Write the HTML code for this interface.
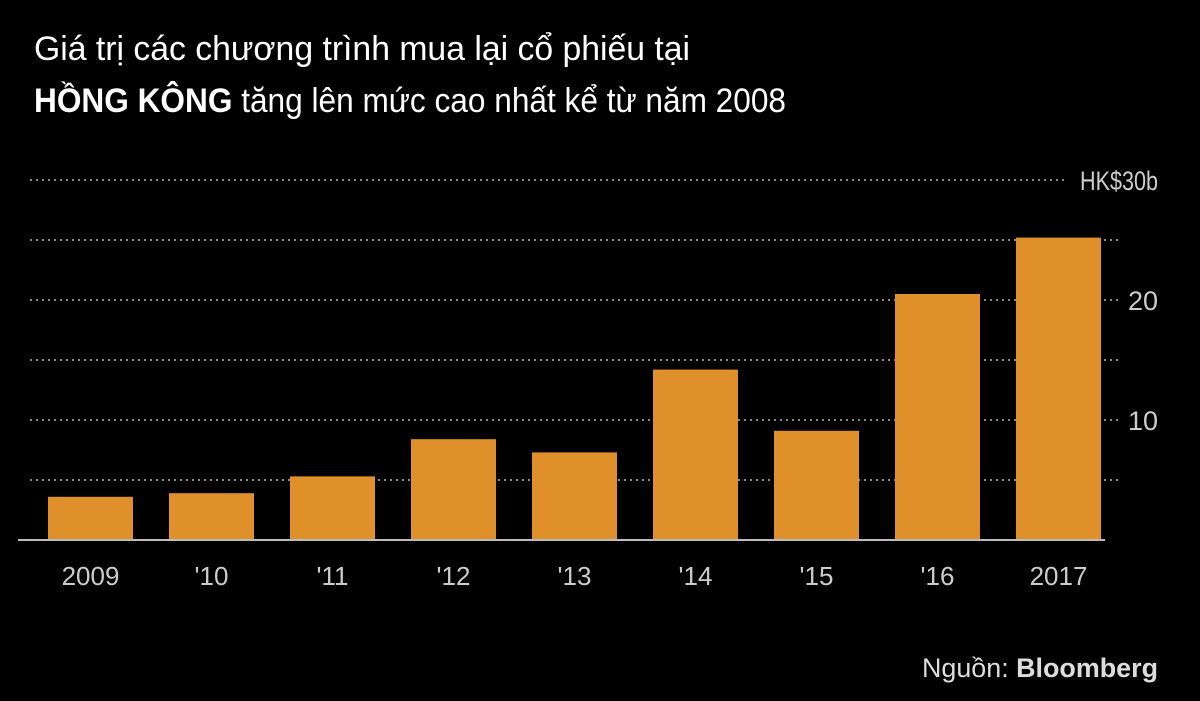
<!DOCTYPE html>
<html><head><meta charset="utf-8"><style>
body{margin:0;background:#000;width:1200px;height:696px;overflow:hidden;font-family:"Liberation Sans",sans-serif}
svg text{font-family:"Liberation Sans",sans-serif}
</style></head><body>
<svg id="chart" width="1200" height="696">
<text x="34" y="60" font-size="34" fill="#fff" textLength="656" lengthAdjust="spacingAndGlyphs">Giá trị các chương trình mua lại cổ phiếu tại</text>
<text x="34" y="112" font-size="34" fill="#fff" textLength="752" lengthAdjust="spacingAndGlyphs"><tspan font-weight="bold">HỒNG KÔNG</tspan> tăng lên mức cao nhất kể từ năm 2008</text>
<g id="grid"></g><g id="bars"></g><g id="xl"></g><g id="yl"></g>
<line x1="18" y1="540" x2="1105" y2="540" stroke="#bbb" stroke-width="2"/>
<text x="1158" y="677" font-size="27" fill="#ddd" text-anchor="end" textLength="236" lengthAdjust="spacingAndGlyphs">Nguồn: <tspan font-weight="bold">Bloomberg</tspan></text>
</svg>
<script>
const categories=["2009","'10","'11","'12","'13","'14","'15","'16","2017"];
const values=[3.6,3.9,5.3,8.4,7.3,14.2,9.1,20.5,25.2];
const gridValues=[5,10,15,20,25,30];
const tickValues=[10,20,30];
const tickLabels=["10","20","HK$30b"];
const NS="http://www.w3.org/2000/svg";
const y=v=>540-v*12;
const xc=i=>90.5+i*121;
function mk(t,a,p){const e=document.createElementNS(NS,t);for(const k in a)e.setAttribute(k,a[k]);p.appendChild(e);return e;}
const G=document.getElementById('grid'),B=document.getElementById('bars'),XL=document.getElementById('xl'),YL=document.getElementById('yl');
gridValues.forEach(v=>{
 const l=mk('line',{x1:30,x2:v===30?1065:1120,y1:y(v),y2:y(v),stroke:'#888','stroke-width':2,'stroke-dasharray':'2 4'},G);
 
 
});
tickValues.forEach((v,i)=>{
 const a={x:1158,y:y(v)+10,'font-size':27,fill:'#ccc','text-anchor':'end'};
 if(tickLabels[i].length>3){a.textLength=78;a.lengthAdjust='spacingAndGlyphs';}
 const t=mk('text',a,YL);t.textContent=tickLabels[i];
 
 
});
categories.forEach((c,i)=>{
 const r=mk('rect',{x:xc(i)-42.5,y:y(values[i]),width:85,height:values[i]*12,fill:'#e0902a'},B);
 
 
 const t=mk('text',{x:xc(i),y:585,'font-size':26,fill:'#ccc','text-anchor':'middle'},XL);t.textContent=c;
 
 
});
</script>
</body></html>
